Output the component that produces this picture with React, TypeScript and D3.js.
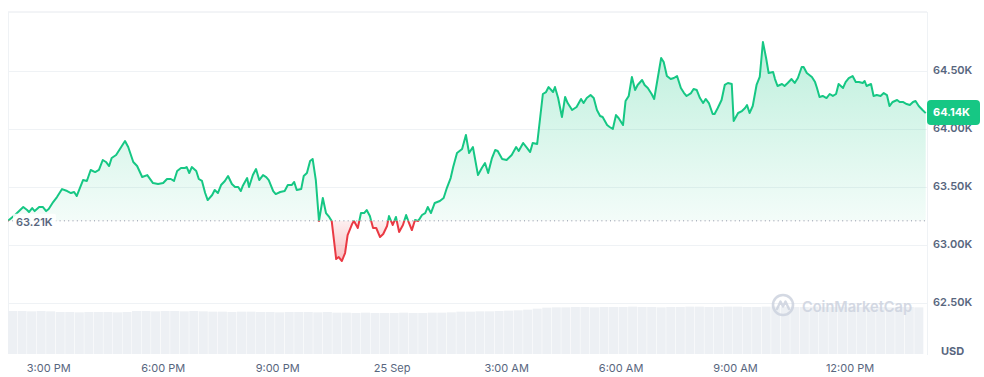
import React from "react";
import * as d3 from "d3";

const startTime = new Date(2024, 8, 24, 13, 56);
const spanMinutes = 1445;
const basePrice = 63210;
const lastPrice = 64140;
const yTicks = [62500, 63000, 63500, 64000, 64500];
const yDomain = [62060, 65013];
const volumeStepMinutes = 15;

const minutes = [
  0, 11, 24, 30, 33, 38, 42, 49, 55, 60, 64, 71, 77, 85, 93, 99, 104, 108, 113, 118,
  124, 130, 137, 143, 149, 154, 159, 163, 170, 178, 184, 189, 197, 203, 211, 219, 228, 236, 244, 250,
  256, 261, 266, 272, 278, 281, 285, 289, 296, 300, 305, 310, 314, 321, 325, 330, 335, 341, 346, 352,
  357, 362, 366, 369, 376, 379, 385, 390, 395, 401, 406, 410, 417, 421, 428, 435, 440, 446, 450, 454,
  461, 465, 470, 475, 479, 484, 489, 495, 500, 505, 509, 516, 520, 525, 530, 534, 541, 544, 550, 555,
  560, 564, 569, 574, 579, 585, 590, 596, 599, 605, 610, 615, 621, 626, 630, 635, 640, 645, 651, 656,
  660, 665, 671, 679, 685, 690, 696, 700, 706, 714, 720, 725, 731, 739, 745, 750, 755, 761, 766, 770,
  777, 784, 792, 799, 803, 810, 816, 821, 825, 832, 841, 846, 850, 857, 860, 865, 871, 876, 880, 887,
  894, 901, 905, 910, 916, 921, 926, 931, 935, 942, 946, 951, 956, 960, 967, 971, 976, 981, 986, 990,
  997, 1001, 1006, 1012, 1016, 1027, 1031, 1036, 1042, 1047, 1052, 1058, 1063, 1067, 1074, 1078, 1083, 1088, 1093, 1097,
  1102, 1108, 1111, 1116, 1122, 1127, 1132, 1138, 1141, 1148, 1154, 1159, 1162, 1166, 1171, 1177, 1182, 1187, 1192, 1196,
  1203, 1206, 1210, 1217, 1221, 1226, 1232, 1237, 1242, 1248, 1251, 1256, 1264, 1269, 1272, 1276, 1281, 1287, 1292, 1297,
  1302, 1306, 1313, 1317, 1322, 1328, 1333, 1338, 1344, 1347, 1350, 1357, 1361, 1366, 1372, 1377, 1382, 1386, 1391, 1398,
  1402, 1407, 1413, 1418, 1423, 1427, 1432, 1438, 1443,
];

const prices = [
  63210, 63260, 63329, 63303, 63286, 63320, 63294, 63329, 63329, 63294, 63312, 63372, 63415, 63484, 63467, 63450, 63459, 63424, 63493, 63562,
  63554, 63649, 63631, 63649, 63735, 63718, 63683, 63752, 63778, 63847, 63899, 63847, 63718, 63683, 63588, 63605, 63536, 63528, 63536, 63571,
  63571, 63554, 63640, 63666, 63666, 63674, 63623, 63674, 63640, 63571, 63554, 63450, 63389, 63433, 63476, 63450, 63519, 63554, 63597, 63528,
  63502, 63502, 63467, 63510, 63579, 63502, 63605, 63657, 63562, 63605, 63588, 63562, 63467, 63441, 63459, 63467, 63519, 63519, 63545, 63476,
  63484, 63597, 63623, 63726, 63744, 63562, 63208, 63407, 63277, 63243, 63208, 62880, 62897, 62863, 62932, 63087, 63182, 63208, 63148, 63277,
  63277, 63303, 63251, 63148, 63148, 63070, 63096, 63165, 63251, 63174, 63243, 63113, 63174, 63260, 63199, 63130, 63217, 63208, 63260, 63277,
  63329, 63277, 63364, 63381, 63407, 63493, 63579, 63674, 63795, 63830, 63951, 63795, 63847, 63605, 63666, 63709, 63623, 63752, 63821, 63813,
  63744, 63735, 63778, 63847, 63813, 63882, 63839, 63804, 63882, 63873, 64305, 64322, 64365, 64322, 64365, 64270, 64106, 64279, 64227, 64167,
  64193, 64262, 64227, 64270, 64296, 64270, 64167, 64115, 64106, 64037, 64020, 64003, 64123, 64098, 64037, 64244, 64288, 64452, 64339, 64383,
  64426, 64383, 64357, 64305, 64262, 64616, 64581, 64460, 64434, 64443, 64460, 64357, 64313, 64288, 64313, 64348, 64339, 64270, 64227, 64262,
  64227, 64132, 64132, 64184, 64253, 64383, 64400, 64391, 64072, 64141, 64158, 64184, 64210, 64141, 64201, 64383, 64452, 64754, 64616, 64486,
  64495, 64434, 64374, 64391, 64374, 64400, 64434, 64400, 64443, 64538, 64538, 64486, 64452, 64408, 64357, 64279, 64288, 64270, 64305, 64288,
  64305, 64391, 64357, 64408, 64443, 64460, 64408, 64408, 64400, 64417, 64374, 64391, 64288, 64296, 64288, 64313, 64296, 64201, 64236, 64253,
  64236, 64236, 64218, 64210, 64236, 64244, 64201, 64167, 64140,
];

// relative volume per 15-minute bucket
const volumes = [
  1.29, 1.29, 1.28, 1.29, 1.28, 1.26, 1.26, 1.25, 1.26, 1.26, 1.26, 1.25, 1.26, 1.29, 1.29, 1.28,
  1.29, 1.29, 1.28, 1.29, 1.28, 1.27, 1.27, 1.26, 1.27, 1.27, 1.26, 1.26, 1.25, 1.26, 1.26, 1.26,
  1.25, 1.26, 1.24, 1.24, 1.23, 1.24, 1.23, 1.23, 1.23, 1.24, 1.23, 1.23, 1.24, 1.24, 1.25, 1.27,
  1.27, 1.28, 1.28, 1.29, 1.30, 1.31, 1.33, 1.36, 1.39, 1.40, 1.40, 1.41, 1.41, 1.40, 1.41, 1.41,
  1.41, 1.42, 1.41, 1.41, 1.40, 1.41, 1.41, 1.42, 1.42, 1.41, 1.41, 1.42, 1.42, 1.41, 1.41, 1.42,
  1.42, 1.42, 1.41, 1.41, 1.42, 1.41, 1.41, 1.41, 1.42, 1.41, 1.41, 1.41, 1.40, 1.41, 1.41, 1.40,
];
const volumeMax = 1.5;

const GREEN = "#16c784";
const RED = "#ea3943";
const GRID = "#eff2f5";
const LABEL = "#58667e";
const FONT = "Inter, 'Noto Sans', sans-serif";

export default function App() {
  const W = 984;
  const H = 377;
  const left = 8;
  const right = 927;
  const top = 12;
  const bottom = 354;
  const volH = 50;

  const t = (m: number) => new Date(+startTime + m * 60000);
  const x = d3.scaleTime().domain([startTime, t(spanMinutes)]).range([left, right]);
  const y = d3.scaleLinear().domain(yDomain).range([bottom, top]);
  const v = d3.scaleLinear().domain([0, volumeMax]).range([bottom, bottom - volH]);

  const data = minutes.map((m, i) => ({ t: t(m), p: prices[i] }));
  const by = y(basePrice);

  const line = d3
    .line<{ t: Date; p: number }>()
    .x((d) => x(d.t))
    .y((d) => y(d.p));
  const area = d3
    .area<{ t: Date; p: number }>()
    .x((d) => x(d.t))
    .y0(by)
    .y1((d) => y(d.p));

  const linePath = line(data) || "";
  const areaPath = area(data) || "";

  const xTicks = x.ticks(d3.timeHour.every(3) as any);
  const fmtTick = (d: Date) =>
    d.getHours() === 0 ? d3.timeFormat("%-d %b")(d) : d3.timeFormat("%-I:%M %p")(d);

  const barW = x(t(volumeStepMinutes)) - x(t(0));
  const ly = y(lastPrice);

  return (
    <div style={{ position: "absolute", left: 0, top: 0, width: W, height: H, background: "#fff" }}>
      <svg width={W} height={H} style={{ display: "block", fontFamily: FONT }}>
        <defs>
          <clipPath id="clipAbove">
            <rect x={left} y={top} width={right - left} height={by - top} />
          </clipPath>
          <clipPath id="clipBelow">
            <rect x={left} y={by} width={right - left} height={bottom - by} />
          </clipPath>
          <linearGradient id="gradGreen" gradientUnits="userSpaceOnUse" x1="0" x2="0" y1={top} y2={by}>
            <stop offset="0" stopColor={GREEN} stopOpacity={0.32} />
            <stop offset="1" stopColor={GREEN} stopOpacity={0.05} />
          </linearGradient>
          <linearGradient id="gradRed" gradientUnits="userSpaceOnUse" x1="0" x2="0" y1={by} y2={by + 45}>
            <stop offset="0" stopColor={RED} stopOpacity={0.08} />
            <stop offset="1" stopColor={RED} stopOpacity={0.35} />
          </linearGradient>
        </defs>

        {/* frame */}
        <line x1={left} x2={right} y1={top} y2={top} stroke="#e6e9ee" />
        <line x1={left + 0.5} x2={left + 0.5} y1={top} y2={bottom} stroke={GRID} />
        <line x1={right + 0.5} x2={right + 0.5} y1={top} y2={bottom + 1} stroke={GRID} />

        {/* grid */}
        {yTicks.map((tk) => (
          <line key={tk} x1={left} x2={right} y1={Math.round(y(tk)) + 0.5} y2={Math.round(y(tk)) + 0.5} stroke={GRID} />
        ))}

        {/* volume bars */}
        {volumes.map((vol, i) => {
          const x0 = x(t(i * volumeStepMinutes));
          return (
            <rect
              key={i}
              x={x0}
              y={v(vol)}
              width={Math.max(0, Math.min(barW - 0.5, right - x0))}
              height={bottom - v(vol)}
              fill="#edf0f4"
            />
          );
        })}

        {/* watermark */}
        <g opacity={0.85}>
          <circle cx={783} cy={305} r={10} fill="none" stroke="#cdd3df" strokeWidth={2.6} />
          <path
            d="M777 309 L780.5 301.5 L783 306.5 L785.5 301.5 L789 309"
            fill="none"
            stroke="#cdd3df"
            strokeWidth={2.4}
            strokeLinejoin="round"
            strokeLinecap="round"
          />
          <text x={802} y={312} fontSize={15} fontWeight={600} fill="#cdd3df" textLength={110} lengthAdjust="spacingAndGlyphs">
            CoinMarketCap
          </text>
        </g>

        {/* areas */}
        <path d={areaPath} fill="url(#gradGreen)" clipPath="url(#clipAbove)" />
        <path d={areaPath} fill="url(#gradRed)" clipPath="url(#clipBelow)" />

        {/* baseline */}
        <line x1={left} x2={right} y1={by} y2={by} stroke="#8a93a6" strokeWidth={1} strokeDasharray="1 3.3" />

        {/* lines */}
        <path d={linePath} fill="none" stroke={GREEN} strokeWidth={2} strokeLinejoin="round" clipPath="url(#clipAbove)" />
        <path d={linePath} fill="none" stroke={RED} strokeWidth={2} strokeLinejoin="round" clipPath="url(#clipBelow)" />

        {/* baseline label */}
        <rect x={13} y={by - 7} width={43} height={15} fill="#fff" opacity={0.85} rx={2} />
        <text x={16} y={by + 2} dominantBaseline="middle" fontSize={11} fontWeight={600} fill={LABEL}>
          {(basePrice / 1000).toFixed(2)}K
        </text>

        {/* y axis labels */}
        {yTicks.map((tk) => (
          <text key={tk} x={933} y={y(tk)} dominantBaseline="middle" fontSize={11} fontWeight={600} fill={LABEL}>
            {(tk / 1000).toFixed(2)}K
          </text>
        ))}
        <text x={941} y={352} dominantBaseline="middle" fontSize={11} fontWeight={700} fill={LABEL}>
          USD
        </text>

        {/* last price tag */}
        <rect x={927} y={ly - 13} width={53} height={25} rx={4} fill={GREEN} />
        <text x={933} y={ly} dominantBaseline="middle" fontSize={11} fontWeight={700} fill="#fff">
          {(lastPrice / 1000).toFixed(2)}K
        </text>

        {/* x axis labels */}
        {xTicks.map((d) => (
          <text
            key={+d}
            x={x(d)}
            y={369}
            textAnchor="middle"
            dominantBaseline="middle"
            fontSize={11}
            fill={LABEL}
          >
            {fmtTick(d)}
          </text>
        ))}
      </svg>
    </div>
  );
}
